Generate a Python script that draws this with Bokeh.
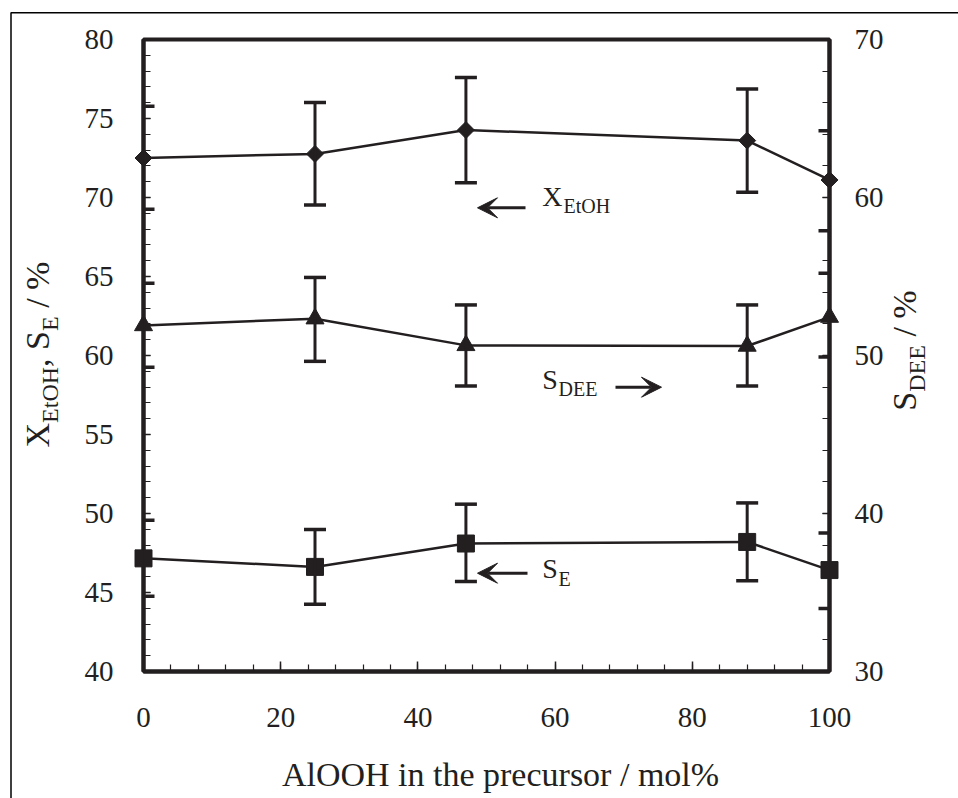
import math
from bokeh.plotting import figure
from bokeh.models import (Range1d, LinearAxis, SingleIntervalTicker, ColumnDataSource,
                          Whisker, TeeHead, Arrow, VeeHead)
from bokeh.core.properties import value
from bokeh.embed import file_html
from bokeh.resources import INLINE

# ---------------- data ----------------
alooh = [0, 25, 47, 88, 100]

x_etoh = [72.5, 72.76, 74.27, 73.6, 71.11]
x_etoh_hi = [75.77, 76.02, 77.6, 76.86, 74.23]
x_etoh_lo = [69.25, 69.53, 70.94, 70.33, 67.9]

s_dee = [51.9, 52.33, 50.64, 50.6, 52.43]
s_dee_hi = [54.58, 54.94, 53.2, 53.2, 55.2]
s_dee_lo = [49.25, 49.63, 48.07, 48.07, 49.9]

s_e = [47.16, 46.62, 48.10, 48.2, 46.42]
s_e_hi = [49.57, 48.99, 50.59, 50.67, 48.77]
s_e_lo = [44.77, 44.25, 45.70, 45.74, 43.99]

x_ticks_interval = 20
left_ticks_interval = 5
right_ticks_interval = 10

INK = "#231f20"
SERIF = "Liberation Serif"
NB = "\u00a0"

W, H = 958, 798
FL, FR, FT, FB = 143, 829, 39, 671

p = figure(width=W, height=H, x_range=Range1d(0, 100), y_range=Range1d(40, 80),
           output_backend="svg", toolbar_location=None,
           min_border_left=FL, min_border_right=W - FR,
           min_border_top=FT, min_border_bottom=H - FB)
p.extra_y_ranges = {"right": Range1d(30, 70)}
p.xgrid.visible = False
p.ygrid.visible = False
p.outline_line_color = INK
p.outline_line_width = 4
p.background_fill_color = "white"
p.border_fill_color = "white"


def style_axis(ax, standoff, tin, minor_in):
    ax.axis_line_color = INK
    ax.axis_line_width = 4
    ax.major_tick_in = tin
    ax.major_tick_out = 0
    ax.minor_tick_in = minor_in
    ax.minor_tick_out = 0
    ax.major_tick_line_color = INK
    ax.minor_tick_line_color = INK
    ax.major_tick_line_width = 1.5
    ax.minor_tick_line_width = 1.2
    ax.major_label_text_font = SERIF
    ax.major_label_text_font_size = "29px"
    ax.major_label_text_color = INK
    ax.major_label_standoff = standoff


xa = p.xaxis[0]
xa.ticker = SingleIntervalTicker(interval=x_ticks_interval, num_minor_ticks=5)
style_axis(xa, 36, 10, 7)

ya = p.yaxis[0]
ya.ticker = SingleIntervalTicker(interval=left_ticks_interval, num_minor_ticks=5)
style_axis(ya, 30, 7, 7)

ra = LinearAxis(y_range_name="right",
                ticker=SingleIntervalTicker(interval=right_ticks_interval, num_minor_ticks=5))
style_axis(ra, 25, 7, 7)
p.add_layout(ra, "right")


def dx(px):
    return (px - FL) / (FR - FL) * 100.0


def dy(py):
    return 80.0 - (py - FT) / (FB - FT) * 40.0


# outer frame of the figure (top and left edges of the original page frame)
frame_line = p.line([dx(10.5), dx(10.5), dx(2000)], [dy(2000), dy(12.3), dy(12.3)],
                    line_color="black", line_width=1.5)
frame_line.level = "overlay"

# ---------------- series ----------------
series = [
    (x_etoh, x_etoh_hi, x_etoh_lo, "default", dict(marker="square", size=12, angle=math.pi / 4)),
    (s_dee, s_dee_hi, s_dee_lo, "right", dict(marker="triangle", size=18)),
    (s_e, s_e_hi, s_e_lo, "default", dict(marker="square", size=17)),
]

for ys, hi, lo, rng, mk in series:
    src = ColumnDataSource(dict(x=alooh, y=ys, hi=hi, lo=lo))
    p.add_layout(Whisker(source=src, base="x", upper="hi", lower="lo", dimension="height",
                         y_range_name=rng, line_color=INK, line_width=3, level="overlay",
                         upper_head=TeeHead(size=22, line_width=3.5, line_color=INK),
                         lower_head=TeeHead(size=22, line_width=3.5, line_color=INK)))
    r1 = p.line("x", "y", source=src, y_range_name=rng, line_color=INK, line_width=2.5)
    r1.level = "overlay"
    r2 = p.scatter("x", "y", source=src, y_range_name=rng, fill_color=INK, line_color=INK,
                   line_width=1, **mk)
    r2.level = "overlay"


# ---------------- labels (text glyphs, drawn unclipped) ----------------
SHIFT = 0.4  # empirical baseline correction, in em


def lab(text, px, py, size, angle=0.0, align="left"):
    if angle:
        px = px - SHIFT * size
    else:
        py = py - SHIFT * size
    r = p.text(x=[dx(px)], y=[dy(py)], text=[text], text_font=value(SERIF),
               text_font_size=value(f"{size}px"), text_color=INK, angle=angle,
               text_align=align, text_baseline="alphabetic")
    r.level = "overlay"


lab("X", 541.7, 206.7, 28)
lab("EtOH", 563, 213, 20)
lab("S", 541.7, 390, 28)
lab("DEE", 558, 396.7, 20)
lab("S", 541.7, 579.3, 28)
lab("E", 558, 586.7, 20)


def arrow(px0, px1, py):
    p.add_layout(Arrow(x_start=dx(px0), x_end=dx(px1), y_start=dy(py), y_end=dy(py),
                       line_color=INK, line_width=3, level="overlay",
                       end=VeeHead(size=20, fill_color=INK, line_color=INK, line_width=1)))


arrow(525, 477, 207.3)
arrow(615, 661, 386.7)
arrow(527, 477, 572.7)

# ---------------- axis titles ----------------
MAIN, SUB = 34, 24
EM = {"X": 0.722, "E": 0.611, "t": 0.278, "O": 0.722, "H": 0.722, ",": 0.25, NB: 0.25,
      "S": 0.556, "/": 0.278, "%": 0.833, "D": 0.722}


def width(s, size):
    return sum(EM[c] for c in s) * size


def vtitle(parts, bx, center_y):
    total = sum(width(t, SUB if sub else MAIN) for t, sub in parts)
    y = center_y + total / 2
    for t, sub in parts:
        size = SUB if sub else MAIN
        lab(t, bx + (8 if sub else 0), y, size, angle=math.pi / 2)
        y -= width(t, size)


vtitle([("X", False), ("EtOH", True), ("," + NB + "S", False), ("E", True),
        (NB + "/" + NB + "%", False)], 51, 354)
vtitle([("S", False), ("DEE", True), (NB + "/" + NB + "%", False)], 918, 350)

lab("AlOOH in the precursor / mol%", 500, 788, MAIN, align="center")

open("out.html", "w").write(file_html(p, INLINE))
